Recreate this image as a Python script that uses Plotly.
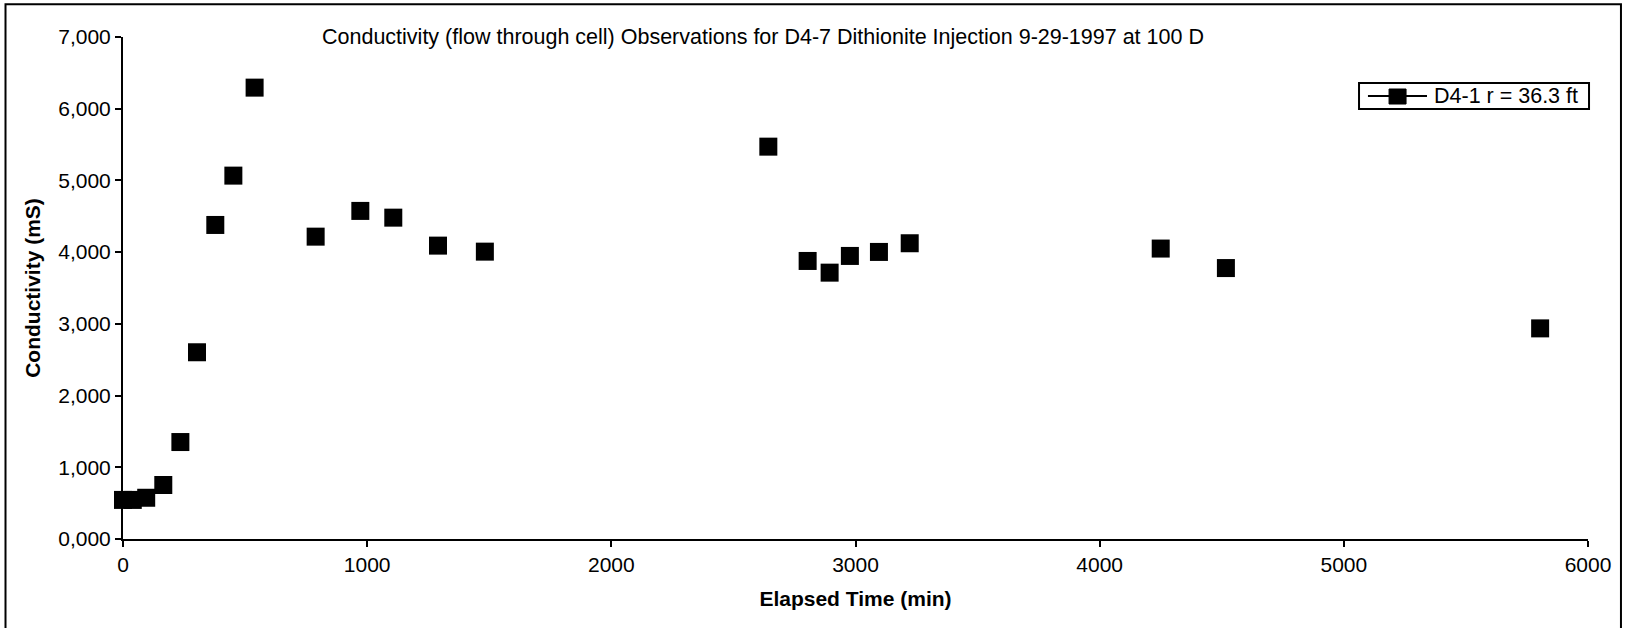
import plotly.graph_objects as go

# Conductivity readings (flow-through cell), well D4-1
elapsed_min = [0, 40, 95, 165, 235, 303, 378, 452, 539, 789, 972, 1107, 1290, 1482,
               2643, 2804, 2894, 2977, 3096, 3222, 4250, 4517, 5804]
conductivity = [545, 545, 575, 753, 1352, 2604, 4379, 5067, 6294, 4216, 4575, 4481,
                4091, 4007, 5471, 3877, 3714, 3947, 4003, 4124, 4050, 3778, 2937]

y_tick_vals = [0, 1000, 2000, 3000, 4000, 5000, 6000, 7000]
y_tick_text = ["0,000", "1,000", "2,000", "3,000", "4,000", "5,000", "6,000", "7,000"]
x_tick_vals = [0, 1000, 2000, 3000, 4000, 5000, 6000]

series_name = "D4-1 r = 36.3 ft"
title_text = ("Conductivity (flow through cell) Observations for D4-7 "
              "Dithionite Injection 9-29-1997 at 100 D")

FONT = "Liberation Sans, Arial, sans-serif"

fig = go.Figure()

# observations as plain square markers
fig.add_trace(go.Scatter(
    x=elapsed_min, y=conductivity, mode="markers", name=series_name,
    marker=dict(symbol="square", size=18, color="black"),
    showlegend=False, cliponaxis=False,
))

# boxed key in the upper right: line-and-square symbol plus series name
key_shapes = [
    dict(type="rect", xref="paper", yref="paper",
         x0=0.8437, x1=1.0007, y0=0.8566, y1=0.9084,
         line=dict(color="black", width=2), fillcolor="white"),
    dict(type="line", xref="paper", yref="paper",
         x0=0.8498, x1=0.8901, y0=0.8825, y1=0.8825,
         line=dict(color="black", width=2)),
    dict(type="rect", xref="paper", yref="paper",
         x0=0.8642, x1=0.8758, y0=0.8665, y1=0.8964,
         line=dict(color="black", width=1), fillcolor="black"),
]

# outer frame around the whole chart
frame = dict(
    type="rect", xref="paper", yref="paper",
    x0=-0.0802, x1=1.0225, y0=-0.2, y1=1.065,
    line=dict(color="black", width=2), fillcolor="rgba(0,0,0,0)",
    layer="below",
)

fig.update_layout(
    width=1625, height=628,
    margin=dict(l=123, r=37, t=37, b=89),
    paper_bgcolor="white", plot_bgcolor="white",
    font=dict(family=FONT, size=21, color="black"),
    showlegend=False,
    xaxis=dict(
        range=[0, 6000], tickvals=x_tick_vals,
        showline=True, linecolor="black", linewidth=2,
        ticks="outside", ticklen=6, tickcolor="black", tickwidth=1.5,
        showgrid=False, zeroline=False,
        tickfont=dict(family=FONT, size=21),
        title=dict(text="<b>Elapsed Time (min)</b>", standoff=16,
                   font=dict(family=FONT, size=21)),
    ),
    yaxis=dict(
        range=[0, 7000], tickvals=y_tick_vals, ticktext=y_tick_text,
        showline=True, linecolor="black", linewidth=2,
        ticks="outside", ticklen=6, tickcolor="black", tickwidth=1.5,
        showgrid=False, zeroline=False,
        tickfont=dict(family=FONT, size=21),
        title=dict(text="<b>Conductivity (mS)</b>", standoff=12,
                   font=dict(family=FONT, size=21)),
    ),
    annotations=[
        dict(text=title_text, xref="paper", yref="paper",
             x=0.437, y=1.0, xanchor="center", yanchor="middle",
             showarrow=False, font=dict(family=FONT, size=21.5, color="black")),
        dict(text=series_name, xref="paper", yref="paper",
             x=0.8935, y=0.8825, xanchor="left", yanchor="middle",
             showarrow=False, font=dict(family=FONT, size=21.5, color="black")),
    ],
    shapes=[frame] + key_shapes,
)

fig.write_html("out.html")
